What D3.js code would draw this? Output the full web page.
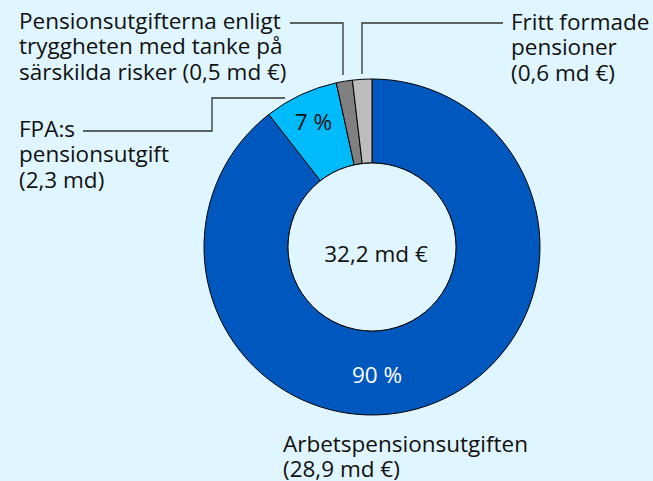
<!DOCTYPE html>
<html>
<head>
<meta charset="utf-8">
<script src="https://cdn.jsdelivr.net/npm/d3@7"></script>
<style>
  html, body { margin: 0; padding: 0; background: #dff5ff; }
  svg { display: block; font-family: "Open Sans", Lato, sans-serif; }
</style>
</head>
<body>
<div id="chart"></div>
<script>
const categories = ["Arbetspensionsutgiften", "FPA:s pensionsutgift", "Pensionsutgifterna enligt trygghet", "Fritt formade pensioner"];
const values = [28.9, 2.3, 0.5, 0.6];
const colors = ["#0058bf", "#00bbfc", "#808080", "#bdbdbd"];
const percentLabels = ["90 %", "7 %", "", ""];
const totalLabel = "32,2 md €";

const width = 653, height = 481;
const cx = 372, cy = 247;
const outerR = 168, innerR = 84;
const fontSize = "22.5px";

const svg = d3.select("#chart").append("svg")
    .attr("width", width)
    .attr("height", height);

svg.append("rect")
    .attr("width", width)
    .attr("height", height)
    .attr("fill", "#dff5ff");

const pie = d3.pie().sort(null).value(d => d);
const arc = d3.arc().innerRadius(innerR).outerRadius(outerR);
const arcs = pie(values);

const g = svg.append("g").attr("transform", `translate(${cx},${cy})`);

g.selectAll("path")
    .data(arcs)
    .enter().append("path")
    .attr("d", arc)
    .attr("fill", (d, i) => colors[i])
    .attr("stroke", "#000")
    .attr("stroke-width", 1);

g.append("circle")
    .attr("r", innerR)
    .attr("fill", "#dff5ff")
    .attr("stroke", "#000")
    .attr("stroke-width", 1);

// percent labels inside the slices
const labelArc = d3.arc().innerRadius(138).outerRadius(138);
g.selectAll(".pct")
    .data(arcs)
    .enter().append("text")
    .attr("class", "pct")
    .attr("x", (d, i) => i === 0 ? 5 : labelArc.centroid(d)[0])
    .attr("y", (d, i) => i === 0 ? 136 : labelArc.centroid(d)[1] + 8)
    .attr("text-anchor", "middle")
    .attr("fill", (d, i) => i === 0 ? "#fff" : "#111")
    .style("font-size", fontSize)
    .text((d, i) => percentLabels[i]);

g.append("text")
    .attr("x", 4)
    .attr("y", 15)
    .attr("text-anchor", "middle")
    .attr("fill", "#111")
    .style("font-size", fontSize)
    .text(totalLabel);

// leader lines
const lines = [
    [[290, 23], [343, 23], [343, 75]],
    [[362, 74], [362, 23], [503, 23]],
    [[83, 131], [212, 131], [212, 98], [285, 98]]
];
const line = d3.line();
svg.selectAll(".leader")
    .data(lines)
    .enter().append("path")
    .attr("class", "leader")
    .attr("d", line)
    .attr("fill", "none")
    .attr("stroke", "#333")
    .attr("stroke-width", 1.3);

// text blocks
const blocks = [
    { x: 19, y: 29, lines: ["Pensionsutgifterna enligt", "tryggheten med tanke på", "särskilda risker (0,5 md €)"] },
    { x: 511, y: 30, lines: ["Fritt formade", "pensioner", "(0,6 md €)"] },
    { x: 19, y: 137, lines: ["FPA:s", "pensionsutgift", "(2,3 md)"] },
    { x: 283, y: 452, lines: ["Arbetspensionsutgiften", "(28,9 md €)"] }
];
blocks.forEach(b => {
    const t = svg.append("text")
        .attr("x", b.x)
        .attr("y", b.y)
        .attr("fill", "#111")
        .style("font-size", fontSize);
    b.lines.forEach((l, i) => {
        t.append("tspan")
            .attr("x", b.x)
            .attr("dy", i === 0 ? 0 : 25.3)
            .text(l);
    });
});
</script>
</body>
</html>
